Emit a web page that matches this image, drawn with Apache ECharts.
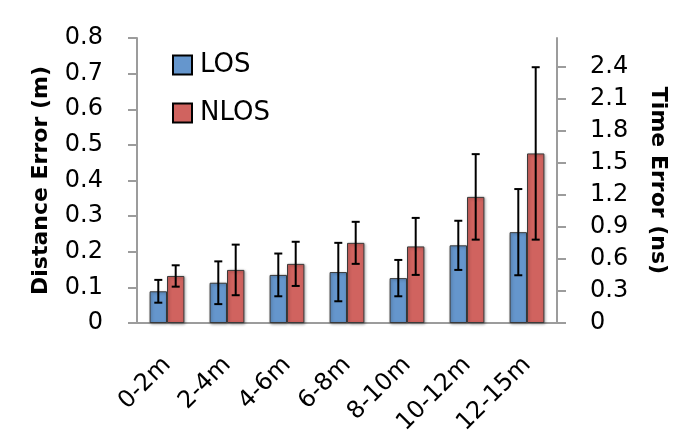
<!DOCTYPE html>
<html>
<head>
<meta charset="utf-8">
<script src="https://cdn.jsdelivr.net/npm/echarts@6/dist/echarts.min.js"></script>
<style>
  html, body { margin: 0; padding: 0; background: #fff; }
  #chart { width: 683px; height: 437px; }
</style>
</head>
<body>
<div id="chart"></div>
<script>
const categories = ['0-2m', '2-4m', '4-6m', '6-8m', '8-10m', '10-12m', '12-15m'];
const losMean = [0.089, 0.113, 0.135, 0.143, 0.126, 0.218, 0.255];
const losErr = [0.032, 0.060, 0.060, 0.082, 0.051, 0.069, 0.121];
const nlosMean = [0.132, 0.149, 0.166, 0.225, 0.215, 0.354, 0.476];
const nlosErr = [0.030, 0.071, 0.062, 0.059, 0.080, 0.120, 0.242];
const timeTicks = [0, 0.3, 0.6, 0.9, 1.2, 1.5, 1.8, 2.1, 2.4];

const font = '"DejaVu Sans", sans-serif';
const axisGray = '#9c9c9c';
const categoryGap = 0.42;

const chart = echarts.init(document.getElementById('chart'));

// error bars drawn on top of each bar, shifted to the bar's side of the category
function errorSeries(name, means, errs, side) {
  return {
    type: 'custom',
    name: name + ' err',
    z: 10,
    silent: true,
    data: means.map((m, i) => [i, m - errs[i], m + errs[i]]),
    renderItem: function (params, api) {
      const band = api.size([1, 0])[0];
      const offset = side * band * (1 - categoryGap) / 4;
      const lo = api.coord([api.value(0), api.value(1)]);
      const hi = api.coord([api.value(0), api.value(2)]);
      const x = lo[0] + offset;
      const cap = 4;
      const style = { stroke: '#000', lineWidth: 2 };
      return {
        type: 'group',
        children: [
          { type: 'line', shape: { x1: x, y1: hi[1], x2: x, y2: lo[1] }, style: style },
          { type: 'line', shape: { x1: x - cap, y1: hi[1], x2: x + cap, y2: hi[1] }, style: style },
          { type: 'line', shape: { x1: x - cap, y1: lo[1], x2: x + cap, y2: lo[1] }, style: style }
        ]
      };
    }
  };
}

const barStyle = (color) => ({
  color: color,
  borderColor: '#3a3a3a',
  borderWidth: 1,
  shadowColor: 'rgba(0,0,0,0.35)',
  shadowBlur: 3,
  shadowOffsetX: 1,
  shadowOffsetY: 1
});

const option = {
  animation: false,
  textStyle: { fontFamily: font, color: '#000' },
  grid: { left: 137, right: 126, top: 38, bottom: 114, outerBoundsMode: 'none' },
  legend: {
    orient: 'vertical',
    left: 167,
    top: 47,
    itemWidth: 19,
    itemHeight: 19,
    itemGap: 22,
    icon: 'rect',
    data: ['LOS', 'NLOS'],
    itemStyle: { borderColor: '#000', borderWidth: 2 },
    textStyle: { fontFamily: font, fontSize: 26, color: '#000', padding: [0, 0, 0, 3] }
  },
  xAxis: {
    type: 'category',
    data: categories,
    axisLine: { lineStyle: { color: axisGray, width: 2 } },
    axisTick: { length: 8, lineStyle: { color: axisGray, width: 2 } },
    axisLabel: { rotate: 45, margin: 38, fontSize: 24, color: '#000', fontFamily: font, interval: 0 }
  },
  yAxis: [
    {
      type: 'value',
      min: 0,
      max: 0.8,
      interval: 0.1,
      name: 'Distance Error (m)',
      nameLocation: 'middle',
      nameGap: 85,
      nameRotate: 90,
      nameTextStyle: { fontSize: 22, fontWeight: 'bold', color: '#000', fontFamily: font },
      axisLine: { show: true, lineStyle: { color: axisGray, width: 2 } },
      axisTick: { show: true, length: 9, lineStyle: { color: axisGray, width: 2 } },
      axisLabel: { margin: 34, fontSize: 24, color: '#000', fontFamily: font },
      splitLine: { show: false }
    },
    {
      type: 'value',
      min: 0,
      max: 0.8 / 0.3,
      position: 'right',
      name: 'Time Error (ns)',
      nameLocation: 'middle',
      nameGap: 90,
      nameRotate: -90,
      nameTextStyle: { fontSize: 22, fontWeight: 'bold', color: '#000', fontFamily: font },
      axisLine: { show: true, lineStyle: { color: axisGray, width: 2 } },
      axisTick: { show: true, length: 9, customValues: timeTicks, lineStyle: { color: axisGray, width: 2 } },
      axisLabel: { margin: 33, fontSize: 24, color: '#000', fontFamily: font, customValues: timeTicks },
      splitLine: { show: false }
    }
  ],
  series: [
    {
      name: 'LOS',
      type: 'bar',
      data: losMean,
      barGap: '0%',
      barCategoryGap: (categoryGap * 100) + '%',
      itemStyle: barStyle('#6596cd')
    },
    {
      name: 'NLOS',
      type: 'bar',
      data: nlosMean,
      itemStyle: barStyle('#d0635f')
    },
    errorSeries('LOS', losMean, losErr, -1),
    errorSeries('NLOS', nlosMean, nlosErr, 1)
  ]
};

chart.setOption(option);
</script>
</body>
</html>
